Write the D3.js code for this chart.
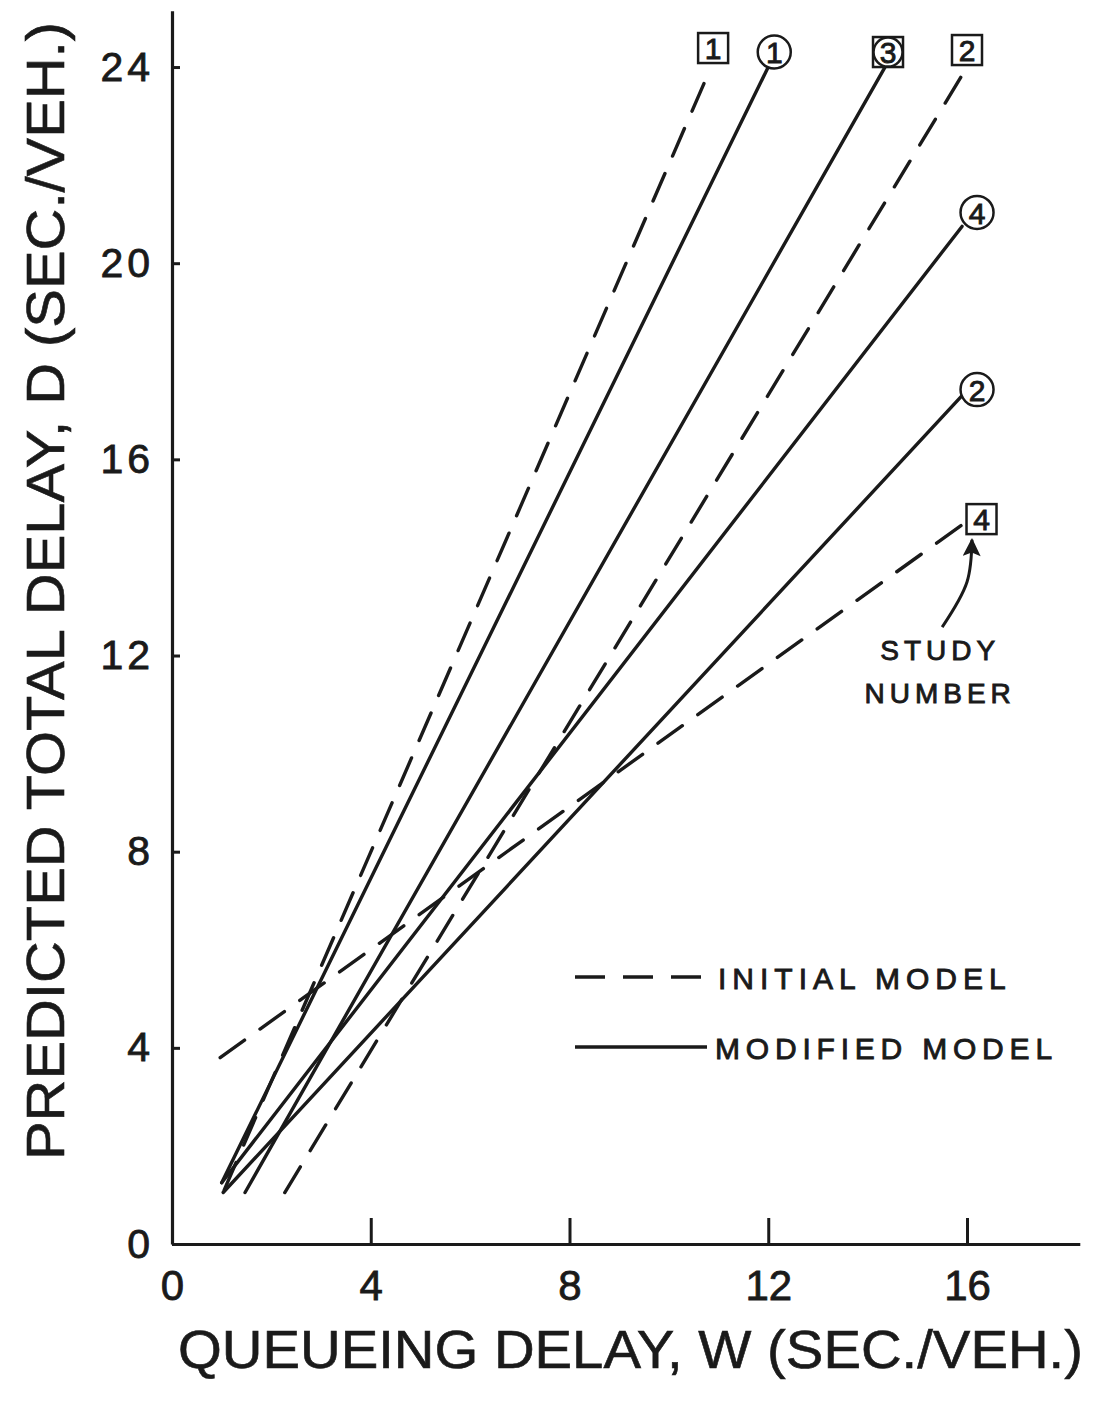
<!DOCTYPE html>
<html>
<head>
<meta charset="utf-8">
<script src="https://cdn.jsdelivr.net/npm/d3@7"></script>
<style>
  body { margin: 0; background: #fff; }
  text { font-family: "Liberation Sans", Arial, sans-serif; fill: #1a1a1a; }
</style>
</head>
<body>
<div id="chart"></div>
<script>
// tick values
const xTicks = [0, 4, 8, 12, 16];
const yTicks = [0, 4, 8, 12, 16, 20, 24];

// initial model (dashed lines), [W, D] end points
const initialStudies = ["1", "2", "4"];
const initialStart = [[1.05, 1.1], [2.27, 1.05], [0.97, 3.8]];
const initialEnd = [[10.85, 24], [16, 24], [15.95, 14.7]];

// modified model (solid lines)
const modifiedStudies = ["1", "3", "4", "2"];
const modifiedStart = [[1.0, 1.25], [1.47, 1.05], [1.0, 1.25], [1.03, 1.05]];
const modifiedEnd = [[12, 24], [14.35, 24], [15.9, 20.75], [15.9, 17.3]];

// "study number" note and its arrow, in data units
const noteLines = ["STUDY", "NUMBER"];
const noteAnchor = [[15.46, 11.9], [15.46, 11.03]];
const arrowPath = [[15.5, 12.58], [16.0, 13.5], [16.1, 14.36]];

const legendLabels = ["INITIAL MODEL", "MODIFIED MODEL"];

// label marker placement (px offsets from the line end)
const initialLabelStyle = [
  { shape: "box", dx: 2, dy: -19 },
  { shape: "box", dx: 0, dy: -17 },
  { shape: "box", dx: 17, dy: -4 },
];
const modifiedLabelStyle = [
  { shape: "circle", dx: 6, dy: -15 },
  { shape: "both", dx: 3, dy: -15 },
  { shape: "circle", dx: 15, dy: -14 },
  { shape: "circle", dx: 15, dy: -6 },
];

const W = 1096, H = 1402;
const INK = "#1a1a1a";

const svg = d3.select("#chart").append("svg")
  .attr("width", W).attr("height", H);

const x = d3.scaleLinear().domain([0, 18.27]).range([172, 172 + 18.27 * 49.6875]);
const y = d3.scaleLinear().domain([0, 25.15]).range([1244, 1244 - 25.15 * 49.04]);

// heavier type, like the printed original
function ink(sel, w) {
  sel.attr("stroke", INK).attr("stroke-width", w).attr("paint-order", "stroke");
}

// X axis
svg.append("g")
  .attr("transform", `translate(0,${y(0)})`)
  .call(d3.axisBottom(x).tickValues(xTicks).tickSizeInner(-26).tickSizeOuter(0).tickPadding(26))
  .call((g) => {
    g.select(".domain").attr("stroke", INK).attr("stroke-width", 3.2);
    g.selectAll(".tick line").attr("stroke", INK).attr("stroke-width", 3);
    g.selectAll(".tick text")
      .attr("font-size", 42).attr("fill", INK)
      .attr("font-family", "Liberation Sans, Arial, sans-serif")
      .call(ink, 0.8);
  });

// Y axis
svg.append("g")
  .attr("transform", `translate(${x(0)},0)`)
  .call(d3.axisLeft(y).tickValues(yTicks).tickSizeInner(-8).tickSizeOuter(0).tickPadding(18))
  .call((g) => {
    g.select(".domain").attr("stroke", INK).attr("stroke-width", 3.2);
    g.selectAll(".tick line").attr("stroke", INK).attr("stroke-width", 3);
    g.selectAll(".tick text")
      .attr("font-size", 41).attr("fill", INK)
      .attr("letter-spacing", 4)
      .attr("font-family", "Liberation Sans, Arial, sans-serif")
      .call(ink, 0.8);
  });

// axis titles
svg.append("text")
  .attr("x", 178).attr("y", 1368)
  .attr("font-size", 53)
  .attr("textLength", 905).attr("lengthAdjust", "spacingAndGlyphs")
  .call(ink, 0.6)
  .text("QUEUEING DELAY, W (SEC./VEH.)");

svg.append("text")
  .attr("transform", "translate(64,1160) rotate(-90)")
  .attr("font-size", 54)
  .attr("textLength", 1138).attr("lengthAdjust", "spacingAndGlyphs")
  .call(ink, 0.6)
  .text("PREDICTED TOTAL DELAY, D (SEC./VEH.)");

// lines
const line = d3.line().x((d) => x(d[0])).y((d) => y(d[1]));

const initialData = initialStudies.map((s, i) => ({
  study: s, pts: [initialStart[i], initialEnd[i]], style: initialLabelStyle[i],
}));
const modifiedData = modifiedStudies.map((s, i) => ({
  study: s, pts: [modifiedStart[i], modifiedEnd[i]], style: modifiedLabelStyle[i],
}));

svg.append("g").selectAll("path")
  .data(initialData).join("path")
  .attr("d", (d) => line(d.pts))
  .attr("fill", "none").attr("stroke", INK)
  .attr("stroke-width", 3.4).attr("stroke-linecap", "round")
  .attr("stroke-dasharray", "30,19");

svg.append("g").selectAll("path")
  .data(modifiedData).join("path")
  .attr("d", (d) => line(d.pts))
  .attr("fill", "none").attr("stroke", INK)
  .attr("stroke-width", 3.4).attr("stroke-linecap", "round");

// study markers
const markers = svg.append("g").selectAll("g")
  .data(initialData.concat(modifiedData)).join("g")
  .attr("transform", (d) =>
    `translate(${x(d.pts[1][0]) + d.style.dx},${y(d.pts[1][1]) + d.style.dy})`);

markers.filter((d) => d.style.shape !== "circle")
  .append("rect")
  .attr("x", -15).attr("y", -15).attr("width", 30).attr("height", 30)
  .attr("fill", "#fff").attr("stroke", INK).attr("stroke-width", 2.5);

markers.filter((d) => d.style.shape !== "box")
  .append("circle")
  .attr("r", (d) => (d.style.shape === "both" ? 14.5 : 16.5))
  .attr("fill", "#fff").attr("stroke", INK).attr("stroke-width", 2.5);

markers.append("text")
  .attr("text-anchor", "middle").attr("dy", "0.37em")
  .attr("font-size", 30)
  .call(ink, 0.9)
  .text((d) => d.study);

// study number note
svg.append("g").selectAll("text")
  .data(noteLines).join("text")
  .attr("x", (d, i) => x(noteAnchor[i][0]))
  .attr("y", (d, i) => y(noteAnchor[i][1]))
  .attr("text-anchor", "middle")
  .attr("font-size", 28).attr("letter-spacing", 5)
  .call(ink, 0.9)
  .text((d) => d);

svg.append("defs").append("marker")
  .attr("id", "head").attr("viewBox", "0 0 10 10")
  .attr("refX", 9).attr("refY", 5)
  .attr("markerWidth", 10).attr("markerHeight", 6)
  .attr("markerUnits", "strokeWidth")
  .attr("orient", "auto")
  .append("path").attr("d", "M0,0 L10,5 L0,10 L2,5 Z").attr("fill", INK);

svg.append("path")
  .attr("d", d3.line().curve(d3.curveCatmullRom).x((d) => x(d[0])).y((d) => y(d[1]))(arrowPath))
  .attr("fill", "none").attr("stroke", INK).attr("stroke-width", 3)
  .attr("marker-end", "url(#head)");

// legend
const legend = svg.append("g").attr("transform", "translate(575,977)");
legend.append("line")
  .attr("x1", 0).attr("x2", 130).attr("y1", 0).attr("y2", 0)
  .attr("stroke", INK).attr("stroke-width", 3.4)
  .attr("stroke-dasharray", "30,18");
legend.append("line")
  .attr("x1", 0).attr("x2", 132).attr("y1", 70).attr("y2", 70)
  .attr("stroke", INK).attr("stroke-width", 3.4);
legend.selectAll("text")
  .data(legendLabels).join("text")
  .attr("x", (d, i) => (i === 0 ? 143 : 140))
  .attr("y", (d, i) => 12 + i * 70)
  .attr("font-size", 30)
  .attr("letter-spacing", (d, i) => (i === 0 ? 6 : 5.8))
  .call(ink, 0.9)
  .text((d) => d);
</script>
</body>
</html>
